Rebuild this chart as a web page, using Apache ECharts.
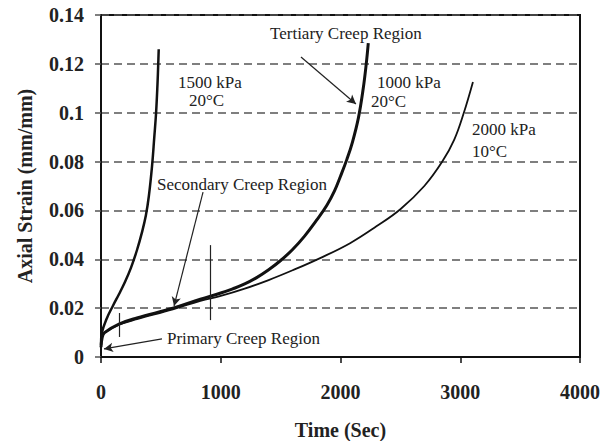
<!DOCTYPE html>
<html>
<head>
<meta charset="utf-8">
<script src="https://cdn.jsdelivr.net/npm/echarts@6/dist/echarts.min.js"></script>
<style>
  html, body { margin: 0; padding: 0; background: #fff; }
  #chart { width: 603px; height: 441px; }
</style>
</head>
<body>
<div id="chart"></div>
<script>
// time (sec), axial strain (mm/mm)
const curve1500 = [[0, 0.005], [8, 0.010], [50, 0.016], [100, 0.021], [150, 0.0257], [200, 0.0307],
  [250, 0.0365], [300, 0.0437], [342, 0.051], [375, 0.058], [400, 0.066], [426, 0.078],
  [445, 0.090], [460, 0.100], [472, 0.112], [478, 0.120], [482, 0.126]];
const curve1000 = [[0, 0.004], [10, 0.008], [30, 0.010], [150, 0.0135], [300, 0.016], [600, 0.020],
  [830, 0.0237], [1000, 0.0262], [1100, 0.0279], [1200, 0.0299], [1300, 0.0325], [1400, 0.0357],
  [1500, 0.0395], [1600, 0.044], [1700, 0.0495], [1800, 0.0560], [1885, 0.062], [1950, 0.068],
  [2000, 0.074], [2054, 0.081], [2100, 0.088], [2150, 0.098], [2190, 0.110], [2215, 0.120],
  [2232, 0.1285]];
const curve2000 = [[0, 0.004], [10, 0.008], [30, 0.010], [150, 0.0132], [300, 0.0155], [600, 0.0195],
  [830, 0.023], [1000, 0.025], [1200, 0.028], [1400, 0.0315], [1600, 0.0355], [1830, 0.0405],
  [2080, 0.0466], [2300, 0.0535], [2500, 0.0605], [2700, 0.070], [2850, 0.080], [2950, 0.089],
  [3030, 0.100], [3106, 0.1126]];

const xTicks = [0, 1000, 2000, 3000, 4000];
const yTicks = [0, 0.02, 0.04, 0.06, 0.08, 0.1, 0.12, 0.14];

// annotation arrows and region markers, in data units
const arrows = [
  [[1670, 0.1228], [2129, 0.1036]], // tertiary
  [[852, 0.0675], [610, 0.0209]],   // secondary
  [[509, 0.0074], [25, 0.0033]]     // primary
];
const markers = [
  [[150, 0.018], [150, 0.0082]],
  [[916, 0.0458], [916, 0.0151]]
];

const serif = '"Liberation Serif", "Times New Roman", serif';

const chart = echarts.init(document.getElementById('chart'), null, { renderer: 'svg' });

const lineSeries = (name, data, width) => ({
  name: name,
  type: 'line',
  data: data,
  smooth: 0.4,
  symbol: 'none',
  lineStyle: { color: '#111', width: width },
  z: 3
});

const option = {
  backgroundColor: '#fff',
  animation: false,
  grid: {
    left: 101, right: 23, top: 15, bottom: 84,
    outerBoundsMode: 'none',
    show: true, borderColor: '#111', borderWidth: 2
  },
  xAxis: {
    type: 'value',
    min: xTicks[0], max: xTicks[xTicks.length - 1], interval: 1000,
    name: 'Time (Sec)',
    nameLocation: 'middle',
    nameGap: 63,
    nameTextStyle: { fontFamily: serif, fontWeight: 'bold', fontSize: 20, color: '#222' },
    axisLine: { lineStyle: { color: '#111', width: 2 } },
    axisTick: { show: true, length: 6, inside: false, lineStyle: { color: '#111', width: 1.5 } },
    axisLabel: {
      fontFamily: serif, fontWeight: 'bold', fontSize: 20, color: '#222', margin: 25,
      formatter: v => String(v)
    },
    splitLine: { show: false }
  },
  yAxis: {
    type: 'value',
    min: yTicks[0], max: yTicks[yTicks.length - 1], interval: 0.02,
    name: 'Axial Strain (mm/mm)',
    nameLocation: 'middle',
    nameGap: 66,
    nameTextStyle: { fontFamily: serif, fontWeight: 'bold', fontSize: 20, color: '#222' },
    axisLine: { lineStyle: { color: '#111', width: 2 } },
    axisTick: { show: true, length: 7, lineStyle: { color: '#555', width: 1.5, type: [6, 4] } },
    axisLabel: {
      fontFamily: serif, fontWeight: 'bold', fontSize: 20, color: '#222', margin: 17,
      formatter: v => String(+v.toFixed(2))
    },
    splitLine: { show: true, lineStyle: { color: '#555', width: 1.5, type: [8, 5] } }
  },
  series: [
    lineSeries('1500 kPa 20°C', curve1500, 2.5),
    lineSeries('1000 kPa 20°C', curve1000, 3),
    lineSeries('2000 kPa 10°C', curve2000, 1.8),
    {
      type: 'line',
      data: [],
      markLine: {
        silent: true,
        animation: false,
        symbol: ['none', 'arrow'],
        symbolSize: [7, 9],
        label: { show: false },
        lineStyle: { color: '#222', width: 1.2, type: 'solid' },
        data: arrows.map(a => [{ coord: a[0] }, { coord: a[1] }])
      }
    },
    {
      type: 'line',
      data: [],
      markLine: {
        silent: true,
        animation: false,
        symbol: 'none',
        label: { show: false },
        lineStyle: { color: '#222', width: 1.2, type: 'solid' },
        data: markers.map(a => [{ coord: a[0] }, { coord: a[1] }])
      }
    }
  ],
  graphic: [
    ['Tertiary Creep Region', 270, 33],
    ['1500 kPa', 178, 82],
    ['20°C', 189, 100],
    ['1000 kPa', 377, 82],
    ['20°C', 371, 101],
    ['2000 kPa', 472, 129],
    ['10°C', 472, 151],
    ['Secondary Creep Region', 157, 184],
    ['Primary Creep Region', 167, 338]
  ].map(t => ({
    type: 'text',
    x: t[1],
    y: t[2],
    style: { text: t[0], font: '17px ' + serif, fill: '#222', verticalAlign: 'middle' },
    z: 10
  }))
};

chart.setOption(option);
</script>
</body>
</html>
